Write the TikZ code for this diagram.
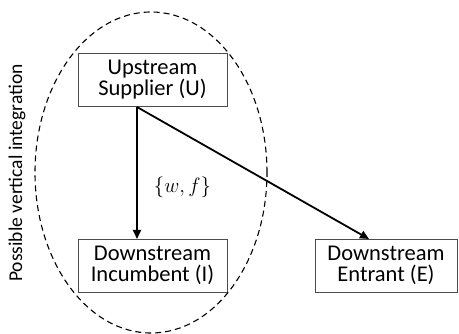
\documentclass[tikz,border=0pt]{standalone}
\usepackage{fontspec}
\setmainfont{Carlito}
\usetikzlibrary{arrows.meta,shapes.geometric}
\begin{document}
\begin{tikzpicture}[x=1pt,y=-1pt,
  firmbox/.style={draw=black!70,line width=0.8pt,minimum width=149pt,minimum height=53pt,inner sep=0pt,align=center,font=\fontsize{22.5}{21.5}\selectfont},
  conn/.style={line width=1.8pt,-{Triangle[length=9pt,width=8pt]}}]
\useasboundingbox (0,0) rectangle (459,334);
\node[firmbox] (U) at (152.5,79.5) {Upstream\\Supplier (U)};
\node[firmbox] (I) at (152.5,265.5) {Downstream\\Incumbent (I)};
\node[firmbox,minimum width=142pt] (E) at (386,265.5) {Downstream\\Entrant (E)};
\coordinate (s) at (137,107);
\draw[conn] (s) -- (137,239);
\draw[conn] (s) -- (369,239);
\node (wf) at (182.5,187) {\fontsize{20.5}{22}\selectfont$\{w,f\}$};
\node[draw,dash pattern=on 6pt off 4pt,line width=1.1pt,ellipse,minimum width=232pt,minimum height=321pt,inner sep=0pt] (ell) at (151,172.5) {};
\node[rotate=90,font=\fontsize{19.5}{22}\selectfont] (pvi) at (17,173) {Possible vertical integration};
\end{tikzpicture}
\end{document}
